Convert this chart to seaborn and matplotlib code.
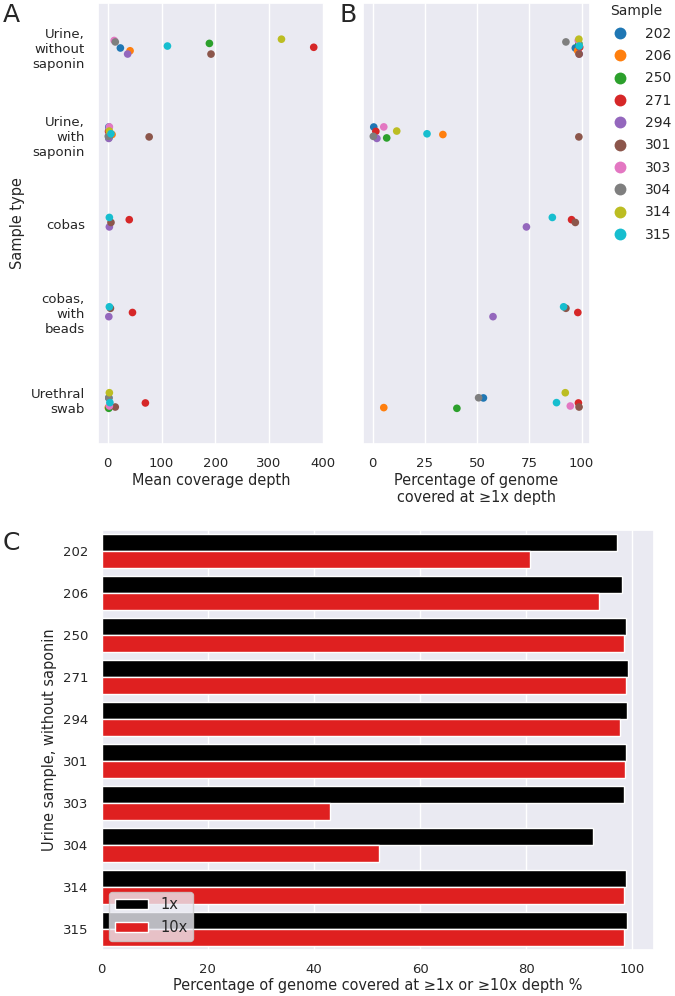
import numpy as np
import pandas as pd
import matplotlib
matplotlib.use('Agg')
import matplotlib.pyplot as plt
import seaborn as sns

# sample types (y categories of panels A and B)
sample_types = ['Urine,\nwithout\nsaponin', 'Urine,\nwith\nsaponin', 'cobas',
                'cobas,\nwith\nbeads', 'Urethral\nswab']
samples = ['202', '206', '250', '271', '294', '301', '303', '304', '314', '315']

# samples present per sample type, with depth and coverage (>=1x)
urine_nosap_ids = ['202', '206', '250', '271', '294', '301', '303', '304', '314', '315']
urine_nosap_depth = [23.5, 41.5, 189, 383, 37, 192, 12, 14, 323, 111]
urine_nosap_cov = [97.0, 98.1, 98.7, 99.1, 98.9, 98.8, 98.4, 92.5, 98.7, 98.9]

urine_sap_ids = ['202', '206', '250', '271', '294', '301', '303', '304', '314', '315']
urine_sap_depth = [2, 8, 2, 1.5, 2, 77, 3, 1, 3, 6]
urine_sap_cov = [0.5, 33.6, 6.7, 1.5, 2.0, 98.7, 5.3, 0.3, 11.5, 26.0]

cobas_ids = ['271', '294', '301', '315']
cobas_depth = [40, 3, 6, 3]
cobas_cov = [95.2, 73.6, 97.0, 86.0]

beads_ids = ['271', '294', '301', '315']
beads_depth = [46, 2, 5, 3]
beads_cov = [98.2, 57.6, 92.5, 91.4]

swab_ids = ['202', '206', '250', '271', '301', '303', '304', '314', '315']
swab_depth = [2, 1, 2, 70, 14, 3, 2, 3, 4]
swab_cov = [53.0, 5.3, 40.3, 98.5, 98.8, 94.6, 50.7, 92.2, 88.0]

# panel C: urine without saponin, >=1x and >=10x coverage
cov_1x = [97.0, 98.1, 98.7, 99.1, 98.9, 98.8, 98.4, 92.5, 98.7, 98.9]
cov_10x = [80.7, 93.6, 98.4, 98.8, 97.6, 98.5, 43.1, 52.2, 98.4, 98.4]

groups = [(urine_nosap_ids, urine_nosap_depth, urine_nosap_cov),
          (urine_sap_ids, urine_sap_depth, urine_sap_cov),
          (cobas_ids, cobas_depth, cobas_cov),
          (beads_ids, beads_depth, beads_cov),
          (swab_ids, swab_depth, swab_cov)]
rows = []
for stype, (ids, dep, cov) in zip(sample_types, groups):
    for s, d, c in zip(ids, dep, cov):
        rows.append({'Sample type': stype, 'Sample': s, 'depth': d, 'cov': c})
df = pd.DataFrame(rows)

dfc = pd.DataFrame({
    'Sample': samples * 2,
    'value': cov_1x + cov_10x,
    'Depth': ['1x'] * len(samples) + ['10x'] * len(samples),
})

sns.set_theme(style='darkgrid', font_scale=0.87)
fig = plt.figure(figsize=(6.75, 9.96), dpi=100)
ax_a = fig.add_axes([0.1452, 0.5542, 0.3348, 0.4428])
ax_b = fig.add_axes([0.5378, 0.5542, 0.3363, 0.4428])
ax_c = fig.add_axes([0.1507, 0.0462, 0.8182, 0.4215])

# Panel A
np.random.seed(3)
sns.stripplot(data=df, x='depth', y='Sample type', hue='Sample', hue_order=samples,
              order=sample_types, palette='tab10', size=5.5, ax=ax_a, legend=False)
ax_a.set_xlabel('Mean coverage depth', labelpad=2)
ax_a.set_ylabel('Sample type')
ax_a.set_xticks([0, 100, 200, 300, 400])

# Panel B
np.random.seed(3)
sns.stripplot(data=df, x='cov', y='Sample type', hue='Sample', hue_order=samples,
              order=sample_types, palette='tab10', size=5.5, ax=ax_b)
ax_b.set_xlabel('Percentage of genome\ncovered at \u22651x depth', labelpad=2)
ax_b.set_ylabel('')
ax_b.set_yticklabels([])
ax_b.set_xticks([0, 25, 50, 75, 100])
handles, labels = ax_b.get_legend_handles_labels()
leg = ax_b.legend(handles, labels, title='Sample', loc='upper left',
                  bbox_to_anchor=(1.035, 1.025), frameon=False, markerscale=1.55,
                  handlelength=1.4, handletextpad=1.1, fontsize=10,
                  title_fontsize=10, labelspacing=0.6, alignment='left')

# Panel C
sns.barplot(data=dfc, x='value', y='Sample', hue='Depth', order=samples,
            palette=['black', 'red'], ax=ax_c)
ax_c.set_xlabel('Percentage of genome covered at \u22651x or \u226510x depth %', labelpad=1)
ax_c.set_ylabel('Urine sample, without saponin')
ax_c.legend(loc='lower left', title=None, fontsize=10.5, handlelength=2.3,
            bbox_to_anchor=(0.0, 0.005))

fig.text(0.004, 0.978, 'A', fontsize=18, va='baseline')
fig.text(0.503, 0.978, 'B', fontsize=18, va='baseline')
fig.text(0.004, 0.448, 'C', fontsize=18, va='baseline')

fig.savefig('out.png', dpi=100)
